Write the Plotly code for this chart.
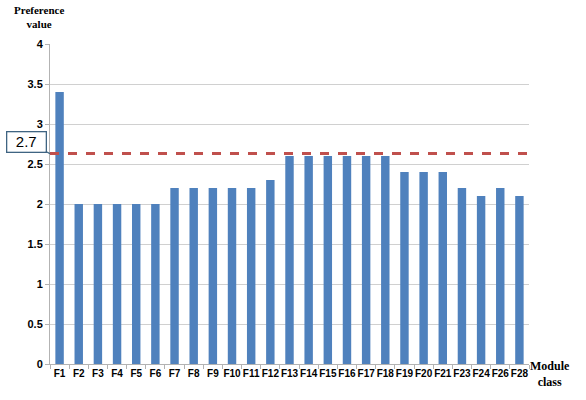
import plotly.graph_objects as go

modules = ["F1", "F2", "F3", "F4", "F5", "F6", "F7", "F8", "F9", "F10", "F11", "F12",
           "F13", "F14", "F15", "F16", "F17", "F18", "F19", "F20", "F21", "F23", "F24",
           "F26", "F28"]
pref_values = [3.4, 2.0, 2.0, 2.0, 2.0, 2.0, 2.2, 2.2, 2.2, 2.2, 2.2, 2.3,
               2.6, 2.6, 2.6, 2.6, 2.6, 2.6, 2.4, 2.4, 2.4, 2.2, 2.1, 2.2, 2.1]
y_ticks = [0, 0.5, 1, 1.5, 2, 2.5, 3, 3.5, 4]
y_tick_labels = ["0", "0.5", "1", "1.5", "2", "2.5", "3", "3.5", "4"]
threshold = 2.63
threshold_label = "2.7"

fig = go.Figure()
fig.add_trace(go.Bar(x=modules, y=pref_values, marker_color="#4f81bd",
                     marker_line_width=0))

# dashed reference line
fig.add_shape(type="line", xref="paper", x0=0, x1=1, yref="y", y0=threshold, y1=threshold,
              line=dict(color="#c0504d", width=3, dash="dash"))

# callout box for the threshold
fig.add_annotation(xref="paper", x=0, yref="y", y=threshold, text=threshold_label,
                   showarrow=True, arrowhead=0, arrowcolor="#3f6482", arrowwidth=1.3,
                   ax=-24, ay=-12, bordercolor="#3f6482", borderwidth=1.3, borderpad=1,
                   width=36, bgcolor="white",
                   font=dict(family="Liberation Sans", size=15, color="black"))

fig.add_annotation(xref="paper", yref="paper", x=-0.023, y=1.084, xanchor="center", yanchor="middle",
                   text="<b>Preference<br>value</b>", showarrow=False, align="center",
                   font=dict(family="Liberation Serif", size=11, color="black"))
fig.add_annotation(xref="paper", yref="paper", x=1.044, y=-0.03, xanchor="center", yanchor="middle",
                   text="<b>Module<br>class</b>", showarrow=False, align="center",
                   font=dict(family="Liberation Serif", size=12, color="black"))

fig.update_layout(
    width=586, height=400,
    margin=dict(l=50, r=57, t=44, b=36),
    plot_bgcolor="white", paper_bgcolor="white",
    showlegend=False, bargap=0.56,
    font=dict(family="Liberation Sans", size=10, color="black"),
)
fig.update_xaxes(type="category", showline=True, linecolor="#b3b3b3", linewidth=1,
                 ticks="outside", tickson="boundaries", ticklen=4, tickcolor="#b3b3b3",
                 tickangle=0, tickvals=modules, ticktext=["<b>%s</b>" % m for m in modules],
                 tickfont=dict(family="Liberation Sans", size=10, weight="bold"),
                 showgrid=False)
fig.update_yaxes(range=[0, 4], tickvals=y_ticks,
                 ticktext=["<b>%s</b>" % t for t in y_tick_labels],
                 showline=True, linecolor="#b3b3b3", linewidth=1,
                 gridcolor="#d0d0d0", zeroline=False, ticks="outside", ticklen=4,
                 tickcolor="#b3b3b3",
                 tickfont=dict(family="Liberation Sans", size=11, weight="bold"))

# drop the default body margin so the figure fills the window
fig.write_html("out.html", config={"displayModeBar": False},
               post_script="document.body.style.margin='0';")
